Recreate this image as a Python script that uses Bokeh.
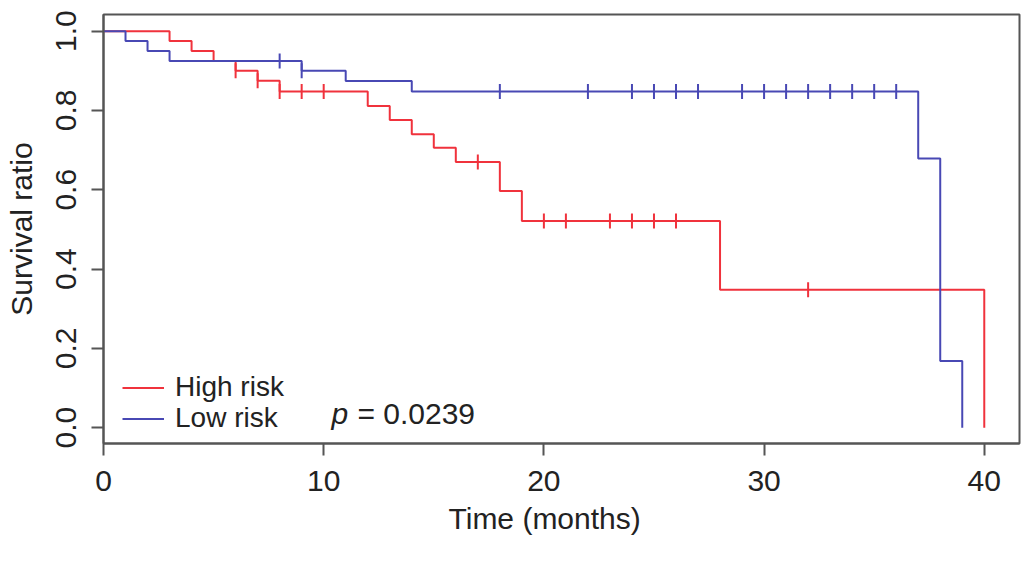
import math

import numpy as np
from bokeh.embed import file_html
from bokeh.models import (FixedTicker,
                          Label,
                          Legend,
                          LegendItem,
                          PrintfTickFormatter,
                          Range1d,
                          Title)
from bokeh.plotting import figure
from bokeh.resources import INLINE

# Kaplan-Meier steps
HIGH_TIMES = [0, 3, 4, 5, 6, 7, 8, 12, 13, 14, 15, 16, 18, 19, 28, 40]
HIGH_SURVIVAL = [1.0, 0.975, 0.95, 0.925, 0.9, 0.875, 0.848, 0.811, 0.776,
                 0.74, 0.706, 0.67, 0.597, 0.521, 0.348, 0.0]
HIGH_CENSORED = [6, 7, 8, 9, 10, 17, 20, 21, 23, 24, 25, 26, 32]

LOW_TIMES = [0, 1, 2, 3, 9, 11, 14, 37, 38, 39]
LOW_SURVIVAL = [1.0, 0.975, 0.95, 0.925, 0.9, 0.874, 0.848, 0.679, 0.168, 0.0]
LOW_CENSORED = [8, 9, 18, 22, 24, 25, 26, 27, 29, 30, 31, 32, 33, 34, 35, 36]

X_TICKS = [0, 10, 20, 30, 40]
Y_TICKS = [0.0, 0.2, 0.4, 0.6, 0.8, 1.0]
P_VALUE = "0.0239"

RED = "#f0323c"
BLUE = "#4848b4"
TEXT = "#222222"
FRAME = "#555555"
FONT = "Liberation Sans"
FONT_SIZE = "30px"


def level_at(times, survival, when):
    index = np.searchsorted(times, when, side="right") - 1
    return [survival[i] for i in index]


def legend_box(label, renderer, bottom):
    return Legend(items=[LegendItem(label=label, renderers=[renderer])],
                  location=(19, bottom),
                  background_fill_alpha=0,
                  border_line_color=None,
                  padding=0, margin=0, spacing=0,
                  glyph_width=42, glyph_height=27,
                  label_height=27, label_standoff=11,
                  label_text_font=FONT,
                  label_text_font_size="28px",
                  label_text_color=TEXT)


p = figure(width=1024, height=556,
           output_backend="svg",
           toolbar_location=None,
           x_range=Range1d(0, 41.6),
           y_range=Range1d(-0.04, 1.042),
           min_border_left=103, min_border_right=5,
           min_border_top=14, min_border_bottom=113)

p.xgrid.visible = False
p.ygrid.visible = False
p.outline_line_color = FRAME
p.outline_line_width = 2
p.background_fill_color = "white"
p.border_fill_color = "white"

high_line = p.step(HIGH_TIMES, HIGH_SURVIVAL, mode="after",
                   line_color=RED, line_width=2)
p.scatter(HIGH_CENSORED,
          level_at(HIGH_TIMES, HIGH_SURVIVAL, HIGH_CENSORED),
          marker="dash", angle=math.pi / 2, size=15,
          line_color=RED, line_width=2)

low_line = p.step(LOW_TIMES, LOW_SURVIVAL, mode="after",
                  line_color=BLUE, line_width=2)
p.scatter(LOW_CENSORED,
          level_at(LOW_TIMES, LOW_SURVIVAL, LOW_CENSORED),
          marker="dash", angle=math.pi / 2, size=15,
          line_color=BLUE, line_width=2)

for axis in (p.xaxis, p.yaxis):
    axis.axis_line_color = FRAME
    axis.axis_line_width = 2
    axis.major_tick_line_color = FRAME
    axis.major_tick_line_width = 2
    axis.major_tick_out = 12
    axis.major_tick_in = 0
    axis.minor_tick_line_color = None
    axis.major_label_text_font = FONT
    axis.major_label_text_font_size = FONT_SIZE
    axis.major_label_text_color = TEXT
    axis.axis_label_text_font = FONT
    axis.axis_label_text_font_size = FONT_SIZE
    axis.axis_label_text_font_style = "normal"
    axis.axis_label_text_color = TEXT

p.xaxis.ticker = FixedTicker(ticks=X_TICKS)
p.xaxis.major_label_standoff = 15

p.yaxis.ticker = FixedTicker(ticks=Y_TICKS)
p.yaxis.formatter = PrintfTickFormatter(format="%.1f")
p.yaxis.major_label_orientation = "vertical"
p.yaxis.axis_label = "Survival ratio"
p.yaxis.major_label_standoff = 15
p.yaxis.axis_label_standoff = 16

# x title sits over the middle of the time span (R style), not the frame
p.add_layout(Title(text="Time (months)", align="left", offset=345,
                   standoff=12,
                   text_font=FONT, text_font_size=FONT_SIZE,
                   text_font_style="normal", text_color=TEXT),
             "below")

p.add_layout(legend_box("High risk", high_line, 40))
p.add_layout(legend_box("Low risk", low_line, 9))

p.add_layout(Label(x=10.35, y=0.036, text="p",
                   text_font=FONT, text_font_size=FONT_SIZE,
                   text_font_style="italic", text_color=TEXT,
                   text_baseline="alphabetic"))
p.add_layout(Label(x=10.35, y=0.036, x_offset=26, text="= " + P_VALUE,
                   text_font=FONT, text_font_size=FONT_SIZE,
                   text_color=TEXT, text_baseline="alphabetic"))

open("out.html", "w").write(file_html(p, INLINE))
